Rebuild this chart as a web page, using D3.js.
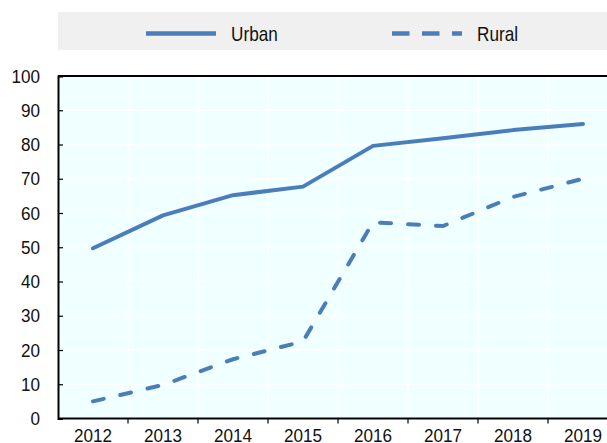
<!DOCTYPE html>
<html>
<head>
<meta charset="utf-8">
<script src="https://cdn.jsdelivr.net/npm/d3@7"></script>
<style>
  body { margin: 0; background: #fff; }
  text { font-family: "Liberation Sans", Arial, sans-serif; }
</style>
</head>
<body>
<div id="chart"></div>
<script>
'use strict'

// data
let years = ["2012", "2013", "2014", "2015", "2016", "2017", "2018", "2019"]
let urban = [49.7, 59.3, 65.2, 67.7, 79.6, 81.8, 84.2, 86.0]
let rural = [5.0, 9.8, 17.3, 22.5, 57.3, 56.2, 64.7, 70.0]
let yTicks = [0, 10, 20, 30, 40, 50, 60, 70, 80, 90, 100]
let seriesNames = ["Urban", "Rural"]

let width = 607
let height = 443
let margin = { top: 76, left: 58, bottom: 24 }
let band = 70
let blue = "#4A7EBB"
let fontSize = 19
let squeeze = 0.9 // the reference font is a bit condensed

let svg = d3.select("#chart").append("svg")
  .attr("width", width)
  .attr("height", height)

let x = d3.scaleBand()
  .domain(years)
  .range([margin.left, margin.left + band * years.length])

let y = d3.scaleLinear()
  .domain([0, 100])
  .range([height - margin.bottom - 0.5, margin.top])

let plotRight = width

// plot background
svg.append("rect")
  .attr("x", margin.left)
  .attr("y", margin.top)
  .attr("width", plotRight - margin.left)
  .attr("height", y(0) - margin.top)
  .attr("fill", "#F0FFFF")

// grid lines
svg.append("g")
  .selectAll("line")
  .data(yTicks.slice(1))
  .enter().append("line")
  .attr("x1", margin.left)
  .attr("x2", plotRight)
  .attr("y1", d => y(d))
  .attr("y2", d => y(d))
  .attr("stroke", "#fff")
  .attr("stroke-width", 1.5)

svg.append("g")
  .selectAll("line")
  .data(years.slice(1))
  .enter().append("line")
  .attr("x1", d => x(d))
  .attr("x2", d => x(d))
  .attr("y1", margin.top)
  .attr("y2", y(0))
  .attr("stroke", "#fff")
  .attr("stroke-width", 1.5)

// top border
svg.append("line")
  .attr("x1", margin.left)
  .attr("x2", plotRight)
  .attr("y1", margin.top)
  .attr("y2", margin.top)
  .attr("stroke", "#000")
  .attr("stroke-width", 2)

// y axis
let yAxis = d3.axisLeft(y)
  .tickValues(yTicks)
  .tickSize(-5)
  .tickPadding(18)

let gy = svg.append("g")
  .attr("transform", "translate(" + margin.left + ",0)")
  .call(yAxis)
gy.select(".domain").attr("stroke", "#000").attr("stroke-width", 2)
gy.selectAll(".tick line").attr("stroke", "#000").attr("stroke-width", 1.2)
gy.selectAll("text")
  .attr("font-size", fontSize)
  .attr("font-family", null)
  .attr("fill", "#111")
  .attr("x", 0)
  .attr("transform", "translate(-18,0) scale(" + squeeze + ",1)")

// x axis: ticks at band edges
let gx = svg.append("g")
  .attr("transform", "translate(0," + y(0) + ")")
gx.append("line")
  .attr("x1", margin.left)
  .attr("x2", plotRight)
  .attr("stroke", "#000")
  .attr("stroke-width", 2)
gx.selectAll(".tk")
  .data(years.slice(1))
  .enter().append("line")
  .attr("x1", d => x(d))
  .attr("x2", d => x(d))
  .attr("y1", 0)
  .attr("y2", 5)
  .attr("stroke", "#000")
  .attr("stroke-width", 1.2)
gx.selectAll("text")
  .data(years)
  .enter().append("text")
  .attr("transform", d => "translate(" + (x(d) + x.bandwidth() / 2) + ",23) scale(" + squeeze + ",1)")
  .attr("text-anchor", "middle")
  .attr("font-size", fontSize)
  .attr("fill", "#111")
  .text(d => d)

// lines
let line = d3.line()
  .x((d, i) => x(years[i]) + x.bandwidth() / 2)
  .y(d => y(d))

svg.append("path")
  .datum(urban)
  .attr("d", line)
  .attr("fill", "none")
  .attr("stroke", blue)
  .attr("stroke-width", 4)
  .attr("stroke-linecap", "round")
  .attr("stroke-linejoin", "round")

svg.append("path")
  .datum(rural)
  .attr("d", line)
  .attr("fill", "none")
  .attr("stroke", blue)
  .attr("stroke-width", 4)
  .attr("stroke-linecap", "round")
  .attr("stroke-dasharray", "11,17")

// legend
svg.append("rect")
  .attr("x", margin.left)
  .attr("y", 12)
  .attr("width", width - margin.left)
  .attr("height", 38)
  .attr("fill", "#F0F0F0")

let legendX = [146, 392]
let legend = svg.selectAll(".legend")
  .data(seriesNames)
  .enter().append("g")
  .attr("class", "legend")
  .attr("transform", (d, i) => "translate(" + legendX[i] + ",33.5)")

legend.append("line")
  .attr("x1", 0)
  .attr("x2", 70)
  .attr("stroke", blue)
  .attr("stroke-width", 4.5)
  .attr("stroke-dasharray", (d, i) => i == 1 ? "17.5,12.5" : null)

legend.append("text")
  .attr("transform", "translate(85,7.5) scale(0.86,1)")
  .attr("font-size", 20)
  .attr("fill", "#111")
  .text(d => d)
</script>
</body>
</html>
